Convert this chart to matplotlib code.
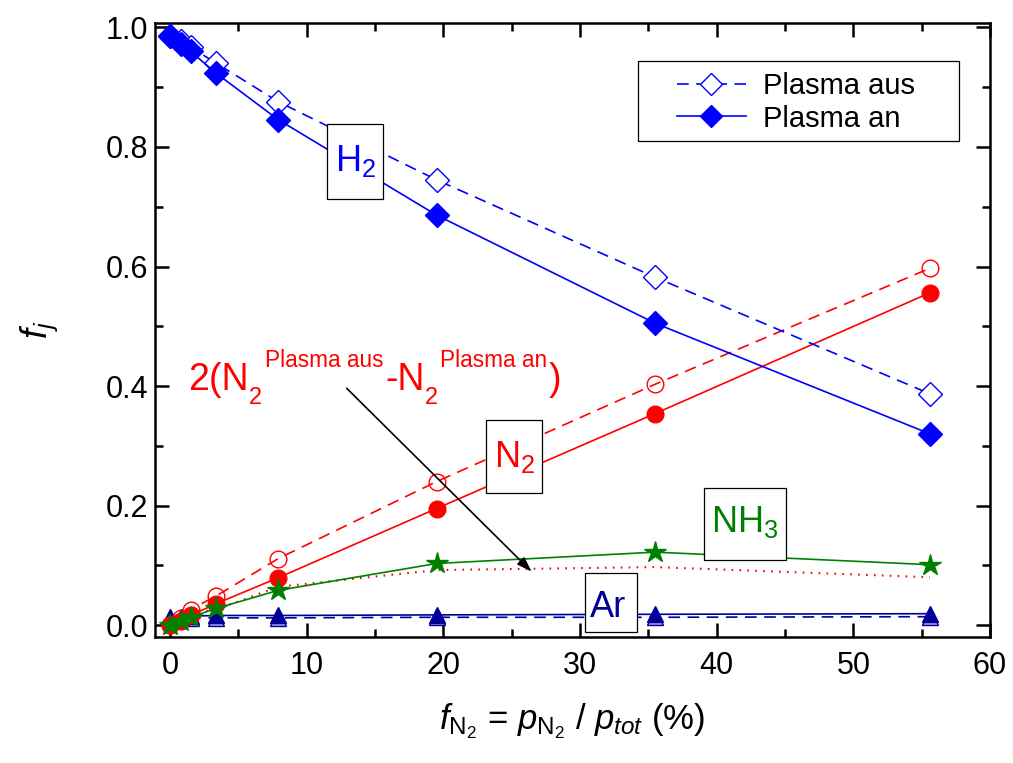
import matplotlib
matplotlib.use("Agg")
import matplotlib.pyplot as plt
from matplotlib.ticker import MultipleLocator, FormatStrFormatter
from matplotlib.transforms import Affine2D, IdentityTransform
from matplotlib.patches import Rectangle

plt.rcParams['font.family'] = ['Liberation Sans', 'DejaVu Sans']
plt.rcParams['mathtext.fontset'] = 'custom'
plt.rcParams['mathtext.rm'] = 'Liberation Sans'
plt.rcParams['mathtext.it'] = 'Liberation Sans:italic'
plt.rcParams['mathtext.bf'] = 'Liberation Sans:bold'

# data
f_N2 = [0.0, 0.8, 1.5, 3.4, 7.9, 19.5, 35.5, 55.6]
H2_aus = [0.985, 0.977, 0.967, 0.940, 0.876, 0.745, 0.582, 0.387]
H2_an = [0.985, 0.972, 0.960, 0.923, 0.846, 0.686, 0.505, 0.320]
N2_aus = [0.0, 0.012, 0.026, 0.049, 0.111, 0.240, 0.403, 0.597]
N2_an = [0.0, 0.007, 0.016, 0.036, 0.079, 0.195, 0.354, 0.556]
NH3_an = [0.0, 0.007, 0.013, 0.028, 0.058, 0.103, 0.122, 0.101]
N2_diff = [0.0, 0.010, 0.020, 0.026, 0.064, 0.092, 0.097, 0.080]
Ar_aus = [0.011, 0.011, 0.012, 0.012, 0.012, 0.013, 0.013, 0.014]
Ar_an = [0.013, 0.014, 0.015, 0.016, 0.016, 0.017, 0.018, 0.019]

W, H = 1013, 763
fig = plt.figure(figsize=(W / 100, H / 100), dpi=100)
ax = fig.add_axes([155 / W, (H - 637) / H, 835 / W, (637 - 22.7) / H])

# image-pixel transform (origin top-left) for annotation placement
PX = Affine2D().scale(1, -1).translate(0, H)

blue = '#0000FF'
red = '#FF0000'
green = '#008000'
navy = '#000099'
lw = 1.2
dash = (7, 4.5)

ax.plot(f_N2, N2_diff, color=red, lw=1.5, ls=(0, (0.8, 3.0)), zorder=2)
ax.plot(f_N2, Ar_aus, color=navy, lw=lw, ls='--', dashes=dash, marker='^', ms=12,
        mfc='#a0a0e0', mec=navy, zorder=3)
ax.plot(f_N2, Ar_an, '-', color=navy, lw=lw, marker='^', ms=12,
        mfc=navy, mec=navy, zorder=3)
ax.plot(f_N2, NH3_an, '-', color=green, lw=lw, marker='*', ms=16,
        mfc=green, mec=green, zorder=4)
ax.plot(f_N2, N2_aus, color=red, lw=lw, ls='--', dashes=dash, marker='o', ms=12,
        mfc='none', mec=red, zorder=3)
ax.plot(f_N2, N2_an, '-', color=red, lw=lw, marker='o', ms=12,
        mfc=red, mec=red, zorder=3)
ax.plot(f_N2, H2_aus, color=blue, lw=lw, ls='--', dashes=dash, marker='D', ms=12,
        mfc='white', mec=blue, label='Plasma aus', zorder=3)
ax.plot(f_N2, H2_an, '-', color=blue, lw=lw, marker='D', ms=12,
        mfc=blue, mec=blue, label='Plasma an', zorder=3)

ax.set_xlim(-1.1, 60)
ax.set_ylim(-0.02, 1.008)
ax.xaxis.set_major_locator(MultipleLocator(10))
ax.xaxis.set_minor_locator(MultipleLocator(5))
ax.yaxis.set_major_locator(MultipleLocator(0.2))
ax.yaxis.set_minor_locator(MultipleLocator(0.1))
ax.yaxis.set_major_formatter(FormatStrFormatter('%.1f'))
ax.tick_params(which='both', direction='in', top=True, right=True,
               width=1.8, labelsize=22)
ax.tick_params(which='major', length=10)
ax.tick_params(which='minor', length=6)
ax.tick_params(axis='x', which='major', pad=10)
ax.tick_params(axis='y', which='major', pad=5)
for s in ax.spines.values():
    s.set_linewidth(1.8)

ax.set_xlabel(r'$f_{\mathrm{N_2}}$ = $p_{\mathrm{N_2}}$ / $p_{tot}$ (%)', fontsize=25, labelpad=15)
ax.set_ylabel(r'$f_j$', fontsize=26, labelpad=33)

# boxed species labels (box edges in image pixels: left, top, right, bottom)
def boxed(label, color, left, top, right, bottom, tx, ty):
    ax.add_patch(Rectangle((left, bottom), right - left, -(bottom - top),
                           transform=PX, fc='white', ec='black', lw=0.9,
                           zorder=6, clip_on=False))
    ax.text(tx, ty, label, transform=PX, color=color, fontsize=26,
            ha='left', va='baseline', zorder=7)

boxed(r'H$_2$', blue, 327, 124, 383, 199, 335, 171)
boxed(r'N$_2$', red, 486, 420, 542, 493, 494, 467)
boxed(r'NH$_3$', green, 704, 488, 786, 560, 711, 532)
boxed('Ar', navy, 585, 573, 637, 632, 590, 617)

# red composite label
pieces = [
    ('2(N', 188, 390, 27),
    ('2', 249, 404, 17),
    ('Plasma aus', 265, 367, 16.3),
    ('-N', 385, 390, 27),
    ('2', 425, 404, 17),
    ('Plasma an', 440, 367, 16.3),
    (')', 549, 390, 27),
]
for s, x, y, fs in pieces:
    ax.text(x, y, s, transform=PX, color=red, fontsize=fs,
            ha='left', va='baseline', zorder=7)

ax.annotate('', xy=(531.7, 571.7), xytext=(346.7, 388.3),
            xycoords=PX, textcoords=PX,
            arrowprops=dict(arrowstyle='-|>,head_length=0.9,head_width=0.3',
                            color='black', lw=1.2, shrinkA=0, shrinkB=0), zorder=5)

# legend
ax.add_patch(Rectangle((638, 141), 321, -80, transform=PX, fc='white',
                       ec='black', lw=0.9, zorder=8, clip_on=False))
leg = ax.legend(loc='center left', bbox_to_anchor=(677, H - 102.5),
                bbox_transform=IdentityTransform(), fontsize=21,
                frameon=False, handlelength=2.35, handletextpad=0.6,
                borderpad=0, borderaxespad=0, labelspacing=0.15, markerscale=0.9)
leg.set_zorder(9)

fig.savefig('out.png', dpi=100)
